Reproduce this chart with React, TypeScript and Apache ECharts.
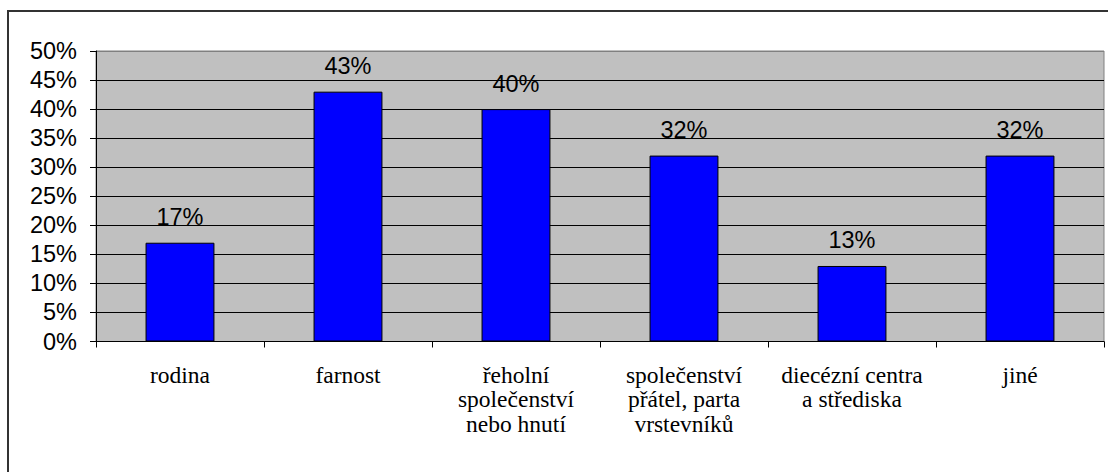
import React, { useEffect, useRef } from "react";
import * as echarts from "echarts";

const categories = [
  "rodina",
  "farnost",
  "řeholní\nspolečenství\nnebo hnutí",
  "společenství\npřátel, parta\nvrstevníků",
  "diecézní centra\na střediska",
  "jiné",
];
const values = [17, 43, 40, 32, 13, 32];
const yTicks = { min: 0, max: 50, interval: 5 };

export default function App() {
  const ref = useRef<HTMLDivElement>(null);
  useEffect(() => {
    if (!ref.current) return;
    const chart = echarts.init(ref.current, null, { renderer: "svg" });
    const splitColors = Array.from({ length: 11 }, (_, i) => (i === 10 ? "#808080" : "#000000"));
    chart.setOption({
      animation: false,
      backgroundColor: "#ffffff",
      graphic: [
        {
          type: "rect",
          shape: { x: 8, y: 11, width: 1120, height: 480 },
          style: { fill: "none", stroke: "#333333", lineWidth: 2 },
          silent: true,
          z: -10,
        },
      ],
      grid: {
        left: 96,
        top: 51,
        right: 4,
        bottom: 130.5,
        show: true,
        backgroundColor: "#c0c0c0",
        borderColor: "#808080",
        borderWidth: 1,
        containLabel: false,
      },
      xAxis: {
        type: "category",
        data: categories,
        axisLine: { show: true, lineStyle: { color: "#000", width: 1 } },
        axisTick: { show: true, length: 6, alignWithLabel: false, lineStyle: { color: "#000" } },
        axisLabel: {
          interval: 0,
          margin: 21,
          color: "#000",
          fontFamily: "'Liberation Serif', 'Times New Roman', serif",
          fontSize: 23.5,
          lineHeight: 24.5,
        },
        splitLine: { show: false },
      },
      yAxis: {
        type: "value",
        min: yTicks.min,
        max: yTicks.max,
        interval: yTicks.interval,
        axisLine: { show: true, lineStyle: { color: "#000", width: 1 } },
        axisTick: { show: true, length: 6, lineStyle: { color: "#000" } },
        axisLabel: {
          formatter: "{value}%",
          margin: 19,
          color: "#000",
          fontFamily: "'Liberation Sans', Arial, sans-serif",
          fontSize: 23.5,
        },
        splitLine: { show: true, lineStyle: { color: splitColors, width: 1 } },
      },
      series: [
        {
          type: "bar",
          data: values,
          barWidth: "41%",
          itemStyle: { color: "#0000ff", borderColor: "#000000", borderWidth: 1 },
          label: {
            show: true,
            position: "top",
            distance: 13.5,
            formatter: "{c}%",
            color: "#000",
            fontFamily: "'Liberation Sans', Arial, sans-serif",
            fontSize: 23.5,
          },
        },
      ],
    });
    return () => chart.dispose();
  }, []);
  return (
    <div
      ref={ref}
      style={{ position: "absolute", left: 0, top: 0, width: 1108, height: 472 }}
    />
  );
}
